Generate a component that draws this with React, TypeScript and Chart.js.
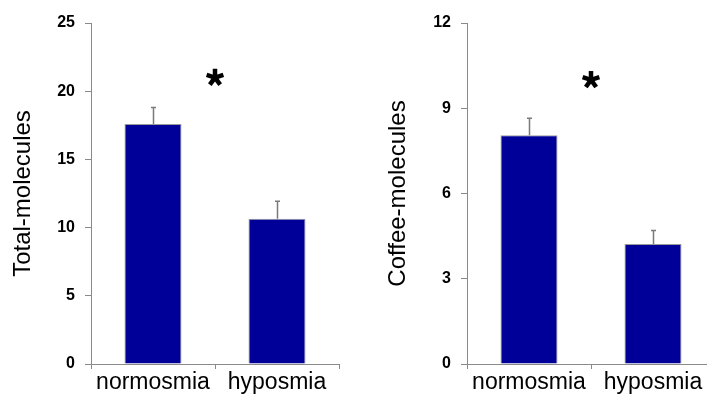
import React, { useEffect, useRef } from "react";
import { Chart, registerables } from "chart.js";

Chart.register(...registerables);

// ---- data ----
const categories = ["normosmia", "hyposmia"];

const totalValues = [17.6, 10.65];
const totalErrors = [1.2, 1.28];
const totalTicks = [0, 5, 10, 15, 20, 25];
const totalSignificanceLevel = 21;
const totalTitle = "Total-molecules";

const coffeeValues = [8.05, 4.22];
const coffeeErrors = [0.6, 0.48];
const coffeeTicks = [0, 3, 6, 9, 12];
const coffeeSignificanceLevel = 10;
const coffeeTitle = "Coffee-molecules";

const FONT = '"Liberation Sans", Arial, Helvetica, sans-serif';
const AXIS_GRAY = "#8a8a8a";
const BAR_FILL = "#000099";

type PanelProps = {
  left: number;
  width: number;
  yAxisWidth: number;
  padRight: number;
  titlePad: number;
  values: number[];
  errors: number[];
  ticks: number[];
  sig: number;
  title: string;
};

function BarPanel(p: PanelProps) {
  const ref = useRef<HTMLCanvasElement | null>(null);

  useEffect(() => {
    if (!ref.current) return;
    const overlay = {
      id: "errAndStar",
      afterDatasetsDraw(chart: any) {
        const { ctx } = chart;
        const meta = chart.getDatasetMeta(0);
        const ys = chart.scales.y;
        const xs = chart.scales.x;
        ctx.save();
        ctx.strokeStyle = "#7a7a7a";
        ctx.lineWidth = 1.5;
        meta.data.forEach((bar: any, i: number) => {
          const v = p.values[i];
          const yTop = ys.getPixelForValue(v + p.errors[i]);
          const yBase = ys.getPixelForValue(v);
          const x = Math.round(bar.x) + 0.5;
          ctx.beginPath();
          ctx.moveTo(x, yBase);
          ctx.lineTo(x, yTop);
          ctx.moveTo(x - 2.5, yTop);
          ctx.lineTo(x + 2.5, yTop);
          ctx.stroke();
        });
        // significance asterisk
        const cx = xs.getPixelForValue(0.5);
        const cy = ys.getPixelForValue(p.sig);
        ctx.strokeStyle = "#000";
        ctx.lineWidth = 4.5;
        ctx.lineCap = "butt";
        const r = 8.8;
        for (let k = 0; k < 5; k++) {
          const a = (-90 + k * 72) * Math.PI / 180;
          ctx.beginPath();
          ctx.moveTo(cx, cy);
          ctx.lineTo(cx + r * Math.cos(a), cy + r * Math.sin(a));
          ctx.stroke();
        }
        ctx.restore();
      },
    };

    const chart = new Chart(ref.current, {
      type: "bar",
      data: {
        labels: categories,
        datasets: [
          {
            data: p.values,
            backgroundColor: BAR_FILL,
            borderColor: "#9a9a9a",
            borderWidth: 1,
            categoryPercentage: 1,
            barPercentage: 0.46,
          },
        ],
      },
      options: {
        responsive: false,
        animation: false,
        events: [],
        layout: { padding: { left: 0, right: p.padRight, top: 23, bottom: 0 } },
        plugins: {
          legend: { display: false },
          tooltip: { enabled: false },
          title: { display: false },
        },
        scales: {
          x: {
            grid: {
              display: true,
              drawOnChartArea: false,
              drawTicks: true,
              tickLength: 5,
              color: AXIS_GRAY,
              offset: true,
            },
            border: { display: true, color: AXIS_GRAY, width: 1 },
            ticks: {
              color: "#000",
              padding: 0,
              font: { family: FONT, size: 23 },
            },
            afterFit(scale: any) {
              scale.height = 32;
            },
          },
          y: {
            min: p.ticks[0],
            max: p.ticks[p.ticks.length - 1],
            afterBuildTicks(scale: any) {
              scale.ticks = p.ticks.map((v) => ({ value: v }));
            },
            grid: {
              display: true,
              drawOnChartArea: false,
              drawTicks: true,
              tickLength: 6,
              color: AXIS_GRAY,
            },
            border: { display: true, color: AXIS_GRAY, width: 1 },
            ticks: {
              color: "#000",
              padding: 10,
              font: { family: FONT, size: 16, weight: "bold" },
            },
            title: {
              display: true,
              text: p.title,
              color: "#000",
              padding: { top: p.titlePad, bottom: 0 },
              font: { family: FONT, size: 24 },
            },
            afterFit(scale: any) {
              scale.width = p.yAxisWidth;
            },
          },
        },
      },
      plugins: [overlay],
    });
    return () => chart.destroy();
  }, []);

  return (
    <canvas
      ref={ref}
      width={p.width}
      height={396}
      style={{ position: "absolute", left: p.left, top: 0, width: p.width, height: 396 }}
    />
  );
}

export default function App() {
  return (
    <div
      style={{
        position: "fixed",
        left: 0,
        top: 0,
        width: 707,
        height: 396,
        overflow: "hidden",
        background: "#fff",
      }}
    >
      <BarPanel
        left={0}
        width={353}
        yAxisWidth={91}
        padRight={14}
        titlePad={9}
        values={totalValues}
        errors={totalErrors}
        ticks={totalTicks}
        sig={totalSignificanceLevel}
        title={totalTitle}
      />
      <BarPanel
        left={353}
        width={370}
        yAxisWidth={114}
        padRight={8}
        titlePad={31}
        values={coffeeValues}
        errors={coffeeErrors}
        ticks={coffeeTicks}
        sig={coffeeSignificanceLevel}
        title={coffeeTitle}
      />
    </div>
  );
}
